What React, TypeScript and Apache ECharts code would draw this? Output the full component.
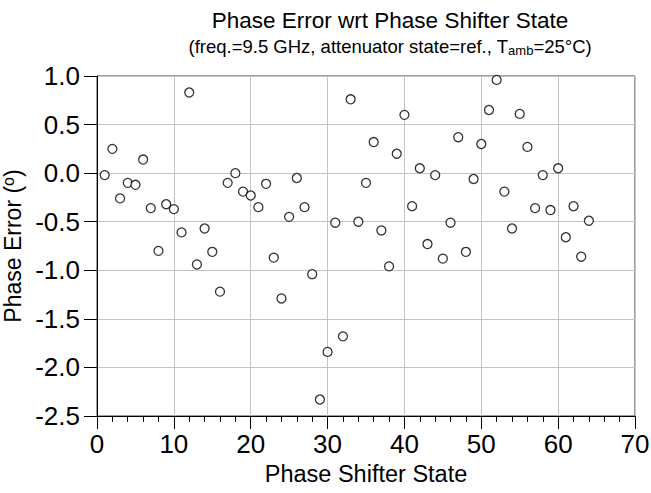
import React, { useEffect, useRef } from "react";
import * as echarts from "echarts";

const states: number[] = [
  1, 2, 3, 4, 5, 6, 7, 8, 9, 10, 11, 12, 13, 14, 15, 16,
  17, 18, 19, 20, 21, 22, 23, 24, 25, 26, 27, 28, 29, 30, 31, 32,
  33, 34, 35, 36, 37, 38, 39, 40, 41, 42, 43, 44, 45, 46, 47, 48,
  49, 50, 51, 52, 53, 54, 55, 56, 57, 58, 59, 60, 61, 62, 63, 64,
];

const phaseError: number[] = [
  -0.02, 0.25, -0.26, -0.1, -0.12, 0.14, -0.36, -0.8,
  -0.32, -0.37, -0.61, 0.83, -0.94, -0.57, -0.81, -1.22,
  -0.1, 0.0, -0.19, -0.23, -0.35, -0.11, -0.87, -1.29,
  -0.45, -0.05, -0.35, -1.04, -2.33, -1.84, -0.51, -1.68,
  0.76, -0.5, -0.1, 0.32, -0.59, -0.96, 0.2, 0.6,
  -0.34, 0.05, -0.73, -0.02, -0.88, -0.51, 0.37, -0.81,
  -0.06, 0.3, 0.65, 0.96, -0.19, -0.57, 0.61, 0.27,
  -0.36, -0.02, -0.38, 0.05, -0.66, -0.34, -0.86, -0.49,
];

const titleText = "Phase Error wrt Phase Shifter State";
const xAxisTitle = "Phase Shifter State";

const FONT = "'Liberation Sans', Arial, Helvetica, sans-serif";

export default function App() {
  const ref = useRef<HTMLDivElement>(null);

  useEffect(() => {
    document.body.style.margin = "0";
    if (!ref.current) return;
    const chart = echarts.init(ref.current, null, { renderer: "svg" });
    const data = states.map((s, i) => [s, phaseError[i]]);
    chart.setOption({
      animation: false,
      backgroundColor: "#ffffff",
      textStyle: { fontFamily: FONT, color: "#000" },
      graphic: [
        {
          type: "text",
          x: 390,
          y: 9,
          style: {
            text: titleText,
            font: `22.5px ${FONT}`,
            fill: "#000",
            textAlign: "center",
          },
        },
        {
          type: "text",
          x: 390,
          y: 36,
          style: {
            text: "(freq.=9.5 GHz, attenuator state=ref., T{sub|amb}=25°C)",
            fontFamily: FONT,
            fontSize: 18.5,
            fill: "#000",
            textAlign: "center",
            rich: {
              sub: {
                fontFamily: FONT,
                fontSize: 13,
                fill: "#000",
                verticalAlign: "bottom",
                padding: [8, 0, 0, 0],
              },
            },
          },
        },
      ],
      grid: {
        left: 97,
        right: 16,
        top: 76,
        bottom: 77,
        containLabel: false,
        outerBoundsMode: "none",
        show: true,
        borderColor: "#404040",
        borderWidth: 1,
        backgroundColor: "transparent",
      },
      xAxis: {
        type: "value",
        min: 0,
        max: 70,
        interval: 10,
        name: xAxisTitle,
        nameLocation: "middle",
        nameGap: 42,
        nameTextStyle: { fontFamily: FONT, fontSize: 23.5, color: "#000" },
        axisLine: { show: true, onZero: false, lineStyle: { color: "#000", width: 1 } },
        axisTick: { show: true, length: 13, inside: false, lineStyle: { color: "#000", width: 1 } },
        minorTick: { show: true, splitNumber: 5, length: 6, lineStyle: { color: "#000", width: 1 } },
        axisLabel: { fontFamily: FONT, fontSize: 26, color: "#000", margin: 15 },
        splitLine: { show: true, lineStyle: { color: "#c4c4c4", width: 1 } },
      },
      yAxis: {
        type: "value",
        min: -2.5,
        max: 1.0,
        interval: 0.5,
        name: "Phase Error ({sup|o})",
        nameLocation: "middle",
        nameGap: 69,
        nameRotate: 90,
        nameTextStyle: {
          fontFamily: FONT,
          fontSize: 23,
          color: "#000",
          rich: {
            sup: {
              fontFamily: FONT,
              fontSize: 16,
              color: "#000",
              verticalAlign: "top",
              padding: [0, 0, 8, 0],
            },
          },
        },
        axisLine: { show: true, onZero: false, lineStyle: { color: "#000", width: 1 } },
        axisTick: { show: true, length: 13, inside: false, lineStyle: { color: "#000", width: 1 } },
        axisLabel: {
          fontFamily: FONT,
          fontSize: 26,
          color: "#000",
          margin: 17,
          formatter: (v: number) => v.toFixed(1),
        },
        splitLine: { show: true, lineStyle: { color: "#c4c4c4", width: 1 } },
      },
      series: [
        {
          type: "scatter",
          data,
          symbol: "circle",
          symbolSize: 9,
          itemStyle: { color: "#ffffff", borderColor: "#000", borderWidth: 1.3 },
        },
      ],
    });
    return () => chart.dispose();
  }, []);

  return <div ref={ref} style={{ width: 651, height: 493 }} />;
}
